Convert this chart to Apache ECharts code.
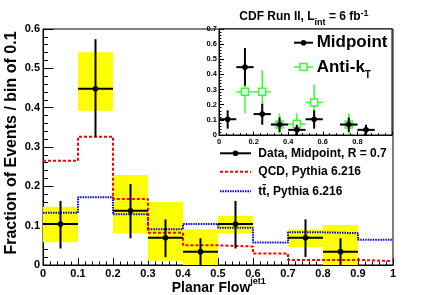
<!DOCTYPE html>
<html><head><meta charset="utf-8">
<script src="https://cdn.jsdelivr.net/npm/echarts@6/dist/echarts.min.js"></script>
<style>html,body{margin:0;padding:0;background:#fff}#c{width:436px;height:295px}</style>
</head><body><div id="c"></div>
<script>
// ---- data ----
const binEdges = [0, 0.1, 0.2, 0.3, 0.4, 0.5, 0.6, 0.7, 0.8, 0.9, 1.0];
const qcd   = [0.265, 0.326, 0.168, 0.082, 0.050, 0.047, 0.029, 0.013, 0.013, 0.010];
const ttbar = [0.133, 0.172, 0.129, 0.091, 0.104, 0.095, 0.057, 0.083, 0.081, 0.064];

const binCenters = [0.05, 0.15, 0.25, 0.35, 0.45, 0.55, 0.75, 0.85];
const dataVal = [0.104, 0.448, 0.138, 0.069, 0.034, 0.104, 0.069, 0.034];
const statLo  = [0.042, 0.326, 0.068, 0.020, 0.000, 0.042, 0.020, 0.000];
const statHi  = [0.163, 0.574, 0.206, 0.116, 0.068, 0.163, 0.116, 0.068];
const sysLo   = [0.058, 0.392, 0.081, 0.011, 0.000, 0.080, 0.046, 0.000];
const sysHi   = [0.148, 0.541, 0.229, 0.160, 0.091, 0.125, 0.090, 0.102];

const akX   = [0.15, 0.25, 0.35, 0.45, 0.55, 0.75];
const akVal = [0.285, 0.285, 0.070, 0.072, 0.215, 0.070];
const akLo  = [0.143, 0.145, 0.010, 0.000, 0.098, 0.000];
const akHi  = [0.428, 0.428, 0.143, 0.143, 0.333, 0.143];

const binHalfWidth = 0.05;
const mainYTicks = [0, 0.1, 0.2, 0.3, 0.4, 0.5, 0.6];

// ---- helpers ----
const FONT = '"Liberation Sans", Arial, Helvetica, sans-serif';
const ctx = document.createElement('canvas').getContext('2d');
function tw(t, s) { ctx.font = 'bold ' + s + 'px ' + FONT; return ctx.measureText(t).width; }
function chain(parts, x0, ymid, color) {
  let x = x0; const out = [];
  parts.forEach(p => {
    out.push({type: 'text', z: 100, x: x, y: ymid + (p.dy || 0),
      style: {text: p.t, font: 'bold ' + p.s + 'px ' + FONT, fill: color || '#000',
        align: 'left', verticalAlign: 'middle', textAlign: 'left', textVerticalAlign: 'middle'}});
    x += tw(p.t, p.s);
  });
  return out;
}
function stepData(vals) {
  const d = vals.map((v, i) => [binEdges[i], v]);
  d.push([binEdges[binEdges.length - 1], vals[vals.length - 1]]);
  return d;
}
function errRender(color, lw, marker) {
  return function (params, api) {
    const x = api.value(0), y = api.value(1), lo = api.value(2), hi = api.value(3);
    const c = api.coord([x, y]);
    const pL = api.coord([x - binHalfWidth, y]), pR = api.coord([x + binHalfWidth, y]);
    const pLo = api.coord([x, lo]), pHi = api.coord([x, hi]);
    const ch = [
      {type: 'line', shape: {x1: pL[0], y1: pL[1], x2: pR[0], y2: pR[1]}, style: {stroke: color, lineWidth: lw}},
      {type: 'line', shape: {x1: pLo[0], y1: pLo[1], x2: pHi[0], y2: pHi[1]}, style: {stroke: color, lineWidth: lw}}
    ];
    if (marker === 'circle') ch.push({type: 'circle', shape: {cx: c[0], cy: c[1], r: 2.8}, style: {fill: color}});
    if (marker === 'square') ch.push({type: 'rect', shape: {x: c[0] - 3.5, y: c[1] - 3.5, width: 7, height: 7}, style: {fill: '#fff', stroke: color, lineWidth: 1.5}});
    return {type: 'group', children: ch};
  };
}
function boxRender(params, api) {
  const x = api.value(0), lo = api.value(1), hi = api.value(2);
  const a = api.coord([x - binHalfWidth, hi]), b = api.coord([x + binHalfWidth, lo]);
  return {type: 'rect', shape: {x: a[0], y: a[1], width: b[0] - a[0], height: b[1] - a[1]}, style: {fill: '#ffff00'}};
}

const lbl = (s) => ({color: '#000', fontWeight: 'bold', fontFamily: FONT, fontSize: s});
const blackLine = {lineStyle: {color: '#000', width: 1}};

const chart = echarts.init(document.getElementById('c'), null, {renderer: 'canvas'});

const graphics = [].concat(
  chain([{t: 'CDF Run II, L', s: 12}, {t: 'int', s: 9, dy: 6.3}, {t: ' = 6 fb', s: 12}, {t: '-1', s: 9, dy: -3}], 239.3, 16.7),
  chain([{t: 'Planar Flow', s: 14}, {t: 'jet1', s: 9, dy: -6.8}], 171.7, 288.3),
  [{type: 'text', z: 100, x: 12, y: 143, rotation: Math.PI / 2,
    style: {text: 'Fraction of Events / bin of 0.1', font: 'bold 16px ' + FONT, fill: '#000',
      align: 'center', verticalAlign: 'middle', textAlign: 'center', textVerticalAlign: 'middle'}}],
  // main legend
  [{type: 'line', z: 100, shape: {x1: 220, y1: 153.3, x2: 251, y2: 153.3}, style: {stroke: '#000', lineWidth: 2}},
   {type: 'circle', z: 100, shape: {cx: 235.5, cy: 153.3, r: 2.8}, style: {fill: '#000'}},
   {type: 'line', z: 100, shape: {x1: 220, y1: 171.8, x2: 251, y2: 171.8}, style: {stroke: '#ff0000', lineWidth: 2, lineDash: [3, 2]}},
   {type: 'line', z: 100, shape: {x1: 220, y1: 191.2, x2: 251, y2: 191.2}, style: {stroke: '#0000ff', lineWidth: 2, lineDash: [1.5, 1]}}],
  chain([{t: 'Data, Midpoint, R = 0.7', s: 12}], 258.3, 153.3),
  chain([{t: 'QCD, Pythia 6.216', s: 12}], 258.3, 171.8),
  chain([{t: 'tt\u0304, Pythia 6.216', s: 12}], 258.3, 191.2),
  // inset legend
  [{type: 'line', z: 100, shape: {x1: 294, y1: 42.7, x2: 313, y2: 42.7}, style: {stroke: '#000', lineWidth: 2}},
   {type: 'circle', z: 100, shape: {cx: 303.5, cy: 42.7, r: 2.8}, style: {fill: '#000'}},
   {type: 'line', z: 100, shape: {x1: 294, y1: 67, x2: 313, y2: 67}, style: {stroke: '#33ff33', lineWidth: 1.5}},
   {type: 'rect', z: 100, shape: {x: 300, y: 63.5, width: 7, height: 7}, style: {fill: '#fff', stroke: '#33ff33', lineWidth: 1.5}}],
  chain([{t: 'Midpoint', s: 17}], 316.7, 42.5),
  chain([{t: 'Anti-k', s: 17}, {t: 'T', s: 10, dy: 8}], 316.7, 67.3)
);

chart.setOption({
  animation: false,
  backgroundColor: '#fff',
  grid: [
    {left: 43, top: 29, width: 350, height: 236, show: true, backgroundColor: '#fff', borderColor: '#000', borderWidth: 1, z: 0},
    {left: 219, top: 29, width: 173, height: 106, show: true, backgroundColor: '#fff', borderColor: '#000', borderWidth: 1, z: 10}
  ],
  xAxis: [
    {gridIndex: 0, type: 'value', min: 0, max: 1, interval: 0.1, splitLine: {show: false},
     axisLine: blackLine, axisTick: {inside: true, length: 7, lineStyle: {color: '#000'}},
     minorTick: {show: true, splitNumber: 5, length: 3.5, lineStyle: {color: '#000'}},
     axisLabel: Object.assign(lbl(11), {margin: 3})},
    {gridIndex: 1, type: 'value', min: 0, max: 1, interval: 0.2, splitLine: {show: false}, z: 11,
     axisLine: blackLine, axisTick: {inside: true, length: 3.5, lineStyle: {color: '#000'}},
     minorTick: {show: true, splitNumber: 5, length: 1.8, lineStyle: {color: '#000'}},
     axisLabel: Object.assign(lbl(7.5), {margin: 3, showMaxLabel: false})}
  ],
  yAxis: [
    {gridIndex: 0, type: 'value', min: mainYTicks[0], max: mainYTicks[mainYTicks.length - 1], interval: 0.1, splitLine: {show: false},
     axisLine: blackLine, axisTick: {inside: true, length: 10.5, lineStyle: {color: '#000'}},
     minorTick: {show: true, splitNumber: 5, length: 5, lineStyle: {color: '#000'}},
     axisLabel: Object.assign(lbl(11), {margin: 3})},
    {gridIndex: 1, type: 'value', min: 0, max: 0.7, interval: 0.1, splitLine: {show: false}, z: 11,
     axisLine: blackLine, axisTick: {inside: true, length: 5, lineStyle: {color: '#000'}},
     minorTick: {show: true, splitNumber: 5, length: 2.5, lineStyle: {color: '#000'}},
     axisLabel: Object.assign(lbl(7.5), {margin: 2})}
  ],
  series: [
    {type: 'custom', xAxisIndex: 0, yAxisIndex: 0, z: 1, clip: true, renderItem: boxRender,
     data: binCenters.map((x, i) => [x, sysLo[i], sysHi[i]])},
    {type: 'line', xAxisIndex: 0, yAxisIndex: 0, z: 2, step: 'end', symbol: 'none', clip: true,
     lineStyle: {color: '#0000ff', width: 2, type: [1.5, 1]}, data: stepData(ttbar)},
    {type: 'line', xAxisIndex: 0, yAxisIndex: 0, z: 2, step: 'end', symbol: 'none', clip: true,
     lineStyle: {color: '#ff0000', width: 2, type: [3, 2]}, data: stepData(qcd)},
    {type: 'custom', xAxisIndex: 0, yAxisIndex: 0, z: 3, clip: true, renderItem: errRender('#000', 2, 'circle'),
     data: binCenters.map((x, i) => [x, dataVal[i], statLo[i], statHi[i]])},
    // inset
    {type: 'custom', xAxisIndex: 1, yAxisIndex: 1, z: 12, clip: true, renderItem: errRender('#33ff33', 1.5, 'square'),
     data: akX.map((x, i) => [x, akVal[i], akLo[i], akHi[i]])},
    {type: 'custom', xAxisIndex: 1, yAxisIndex: 1, z: 13, clip: true, renderItem: errRender('#000', 2, 'circle'),
     data: binCenters.map((x, i) => [x, dataVal[i], statLo[i], statHi[i]])}
  ],
  graphic: graphics
});
</script></body></html>
